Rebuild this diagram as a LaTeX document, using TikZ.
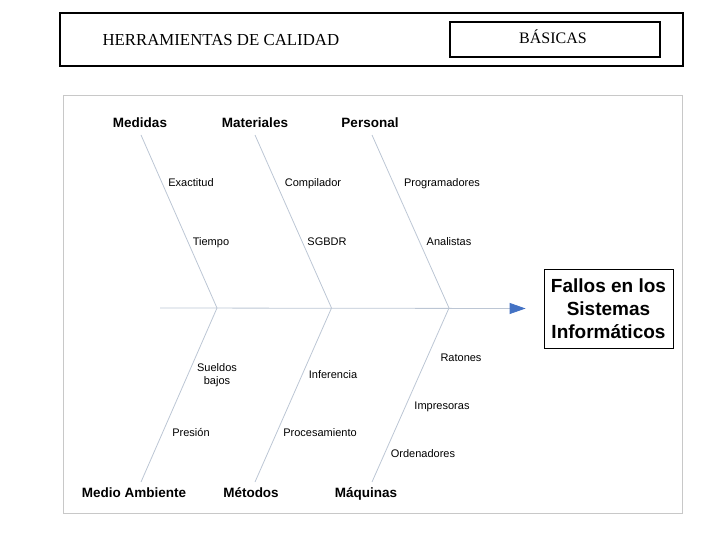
\documentclass[tikz,border=0pt]{standalone}
\usepackage{fontspec}
\setmainfont{Liberation Serif}
\setsansfont{Liberation Sans}
\usetikzlibrary{arrows.meta,positioning}
\definecolor{bonegray}{RGB}{188,198,212}
\definecolor{framegray}{RGB}{200,200,200}
\definecolor{headblue}{RGB}{68,114,196}

\begin{document}
\begin{tikzpicture}[x=1pt, y=-1pt, every node/.style={font=\sffamily}]
\tikzstyle{cause}=[anchor=base, font=\sffamily\bfseries\fontsize{13.5}{15}\selectfont]
\tikzstyle{sub}=[anchor=base, font=\sffamily\fontsize{11}{13}\selectfont, align=center]
\tikzstyle{bone}=[draw=bonegray, line width=0.8pt]
\tikzstyle{hbox}=[draw, line width=1.6pt, font=\rmfamily\fontsize{16}{18}\selectfont]
\useasboundingbox (0,0) rectangle (720,540);
% title bar
\node[hbox, minimum width=623pt, minimum height=53pt] (hdr) at (371.5,39.5) {};
\node[anchor=base west, font=\rmfamily\fontsize{16.8}{18}\selectfont] (tools) at (99,46) {HERRAMIENTAS DE CALIDAD};
\node[hbox, minimum width=210pt, minimum height=35pt] (basic) at (555,39.5) {};
\node[anchor=base, font=\rmfamily\fontsize{16}{18}\selectfont] (basictxt) at (553,44) {BÁSICAS};
% diagram frame
\draw[framegray, line width=0.8pt] (63,95) rectangle (682,513);
% effect and spine
\node[draw, line width=0.8pt, align=center, minimum width=129pt, minimum height=79pt,
  font=\sffamily\bfseries\fontsize{19}{23}\selectfont] (effect) at (608.5,308.5) {Fallos en los\\Sistemas\\Informáticos};
\coordinate (tail) at (160,308);
\draw[bone, -{Triangle[length=16pt, width=11pt, color=headblue]}] (tail) -- ([xshift=-18pt]effect.west);
\coordinate (j1) at (217,308); \coordinate (j2) at (331.5,308); \coordinate (j3) at (449,308);
\coordinate (t1) at (141,135); \coordinate (t2) at (255,135); \coordinate (t3) at (372,135);
\coordinate (b1) at (141,482); \coordinate (b2) at (255,482); \coordinate (b3) at (372,482);
\draw[bone] (t1) -- (j1) -- (b1);
\draw[bone] (t2) -- (j2) -- (b2);
\draw[bone] (t3) -- (j3) -- (b3);
% causes
\node[cause] (med) at (140,128) {Medidas};
\node[cause] (mat) at (255,128) {Materiales};
\node[cause] (per) at (370,128) {Personal};
\node[cause] (amb) at (134,497) {Medio Ambiente};
\node[cause] (met) at (251,497) {Métodos};
\node[cause] (maq) at (366,497) {Máquinas};
% sub-causes
\node[sub] (exa) at (191,187) {Exactitud};
\node[sub] (tie) at (211,245) {Tiempo};
\node[sub] (com) at (313,187) {Compilador};
\node[sub] (sgb) at (327,245) {SGBDR};
\node[sub] (pro) at (442,187) {Programadores};
\node[sub] (ana) at (449,245) {Analistas};
\node[sub] (sue) at (217,384) {Sueldos\\bajos};
\node[sub] (pre) at (191,436) {Presión};
\node[sub] (inf) at (333,378) {Inferencia};
\node[sub] (prc) at (320,436) {Procesamiento};
\node[sub] (rat) at (461,361) {Ratones};
\node[sub] (imp) at (442,409) {Impresoras};
\node[sub] (ord) at (423,457) {Ordenadores};
\end{tikzpicture}
\end{document}
